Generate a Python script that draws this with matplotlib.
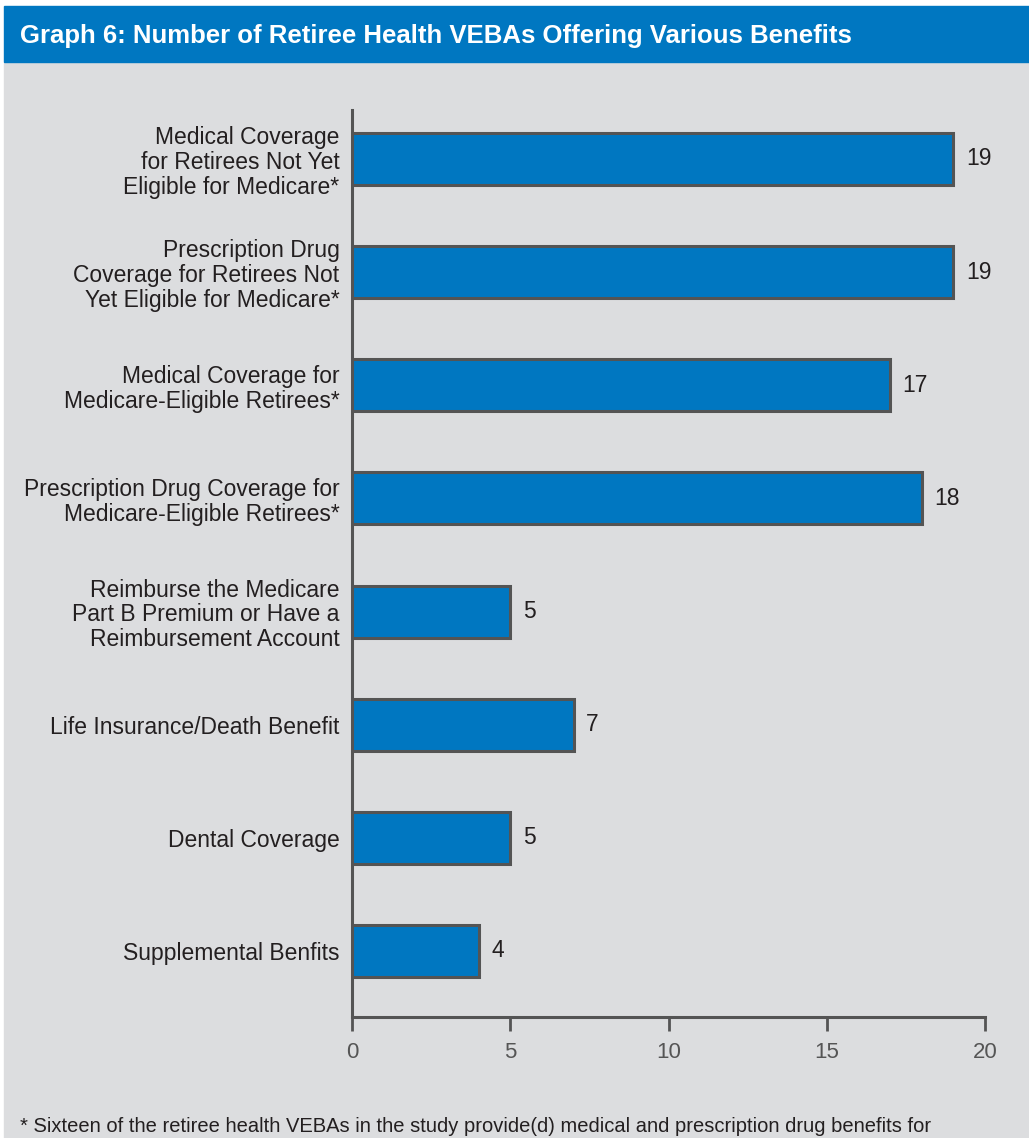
import matplotlib
matplotlib.use('Agg')
import matplotlib.pyplot as plt
from matplotlib.patches import Rectangle

plt.rcParams['font.family'] = ['Liberation Sans', 'DejaVu Sans']

BENEFITS = ['Medical Coverage\nfor Retirees Not Yet\nEligible for Medicare*',
            'Prescription Drug\nCoverage for Retirees Not\nYet Eligible for Medicare*',
            'Medical Coverage for\nMedicare-Eligible Retirees*',
            'Prescription Drug Coverage for\nMedicare-Eligible Retirees*',
            'Reimburse the Medicare\nPart B Premium or Have a\nReimbursement Account',
            'Life Insurance/Death Benefit',
            'Dental Coverage',
            'Supplemental Benfits']
COUNTS = [19, 19, 17, 18, 5, 7, 5, 4]
XTICKS = [0, 5, 10, 15, 20]

TITLE = 'Graph 6: Number of Retiree Health VEBAs Offering Various Benefits'
FOOTNOTE = ('* Sixteen of the retiree health VEBAs in the study provide(d) '
            'medical and prescription drug benefits for')

BLUE = '#0077c1'
PANEL = '#dcdddf'
EDGE = '#545454'
TEXT = '#231f20'

W, H = 1029, 1138
fig = plt.figure(figsize=(W / 100., H / 100.), dpi=100)
fig.patch.set_facecolor('white')

# background panel and title band
fig.patches.append(Rectangle((4. / W, 0), 1, 1 - 63. / H,
                             transform=fig.transFigure, color=PANEL,
                             zorder=-2))
fig.patches.append(Rectangle((4. / W, 1 - 62. / H), 1, 56. / H,
                             transform=fig.transFigure, color=BLUE,
                             zorder=-1))
fig.text(20. / W, 1 - 36. / H, TITLE, color='white', fontsize=18.5,
         fontweight='bold', va='center', ha='left')

ax = fig.add_axes([352. / W, 1 - 1017. / H, 633. / W, 907. / H])
ax.set_facecolor('none')

ypos = list(range(len(COUNTS)))
ax.barh(ypos, COUNTS, height=0.46, color=BLUE, edgecolor=EDGE,
        linewidth=2.2, zorder=3)
for y, v in zip(ypos, COUNTS):
    ax.text(v + 0.4, y, str(v), va='center', ha='left', fontsize=16.5,
            color=TEXT)

ax.set_xlim(0, 20)
ax.set_ylim(7.584, -0.433)
ax.set_yticks(ypos)
ax.set_yticklabels(BENEFITS, fontsize=16.5, color=TEXT, linespacing=1.1)
ax.tick_params(axis='y', length=0, pad=9)
ax.set_xticks(XTICKS)
ax.tick_params(axis='x', length=10, width=2, color=EDGE, labelsize=16,
               labelcolor='#555555', pad=8)
for side in ('top', 'right'):
    ax.spines[side].set_visible(False)
for side in ('left', 'bottom'):
    ax.spines[side].set_color(EDGE)
    ax.spines[side].set_linewidth(2.2)

fig.text(20. / W, 1 - 1126. / H, FOOTNOTE, color=TEXT, fontsize=14.5,
         va='center', ha='left')

fig.savefig('out.png', dpi=100, facecolor=fig.get_facecolor())
